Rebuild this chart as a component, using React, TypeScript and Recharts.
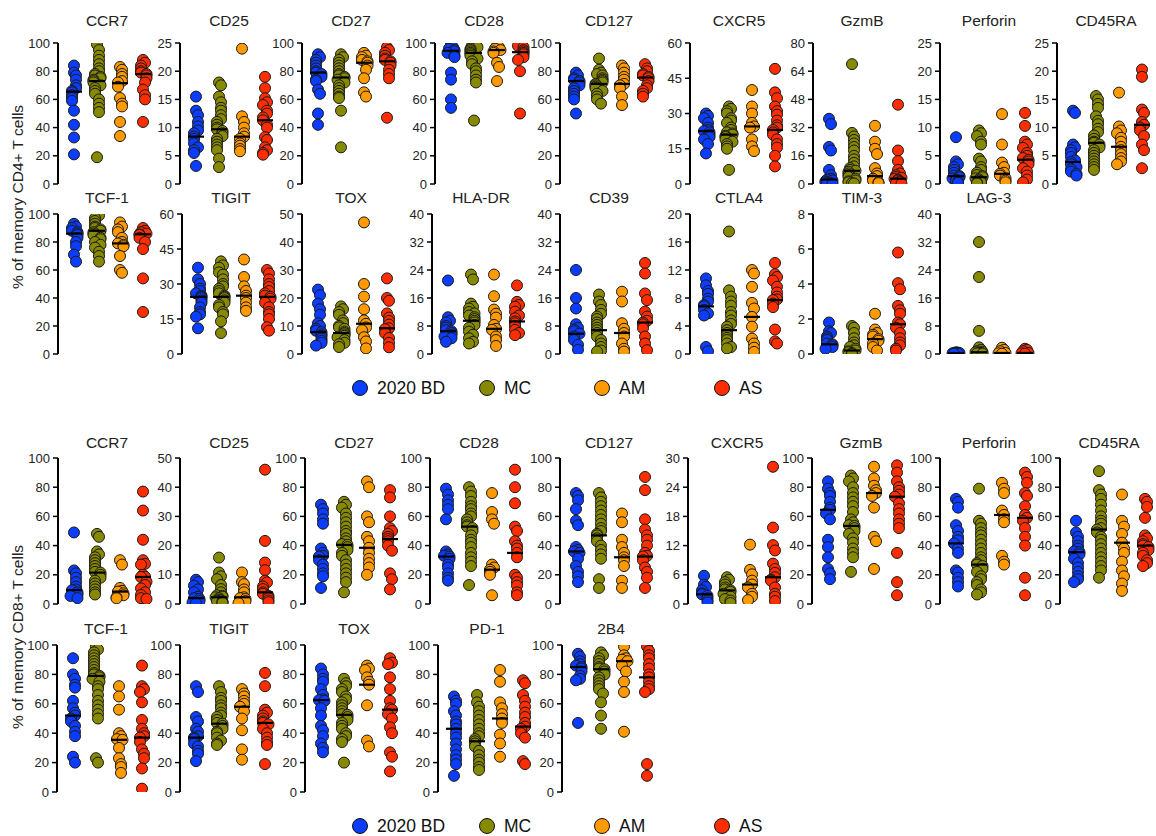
import React from 'react';
import { ScatterChart, Scatter, XAxis, YAxis } from 'recharts';

const FONT = '"Liberation Sans", Arial, Helvetica, sans-serif';
const GROUPS = ['2020 BD', 'MC', 'AM', 'AS'];
const COLORS = ['#0a3dff', '#878a00', '#ff9a00', '#ff2d00'];

// tick label sets
const T100 = [0, 20, 40, 60, 80, 100];
const T25 = [0, 5, 10, 15, 20, 25];
const T60 = [0, 15, 30, 45, 60];
const T80 = [0, 16, 32, 48, 64, 80];
const T50 = [0, 10, 20, 30, 40, 50];
const T40 = [0, 8, 16, 24, 32, 40];
const T20 = [0, 4, 8, 12, 16, 20];
const T8 = [0, 2, 4, 6, 8];
const T30 = [0, 6, 12, 18, 24, 30];

// ---------- CD4 (memory CD4+ T cells) ----------
const CD4_CCR7 = [
  [84, 79, 77, 74, 70, 68, 66, 65, 63, 61, 59, 52, 42, 33, 21],
  [99, 95, 91, 88, 85, 82, 80, 78, 77, 76, 75, 74, 73, 72, 70, 68, 66, 64, 60, 57, 54, 51, 19],
  [83, 81, 78, 76, 73, 72, 69, 61, 57, 55, 44, 34],
  [88, 86, 84, 82, 80, 79, 78, 77, 75, 72, 67, 63, 60, 44],
];
const CD4_CCR7_MED = [65.5, 73, 71.5, 78];

const CD4_CD25 = [
  [15.5, 13, 12.2, 11, 10.2, 9.5, 9, 8.4, 8, 7.2, 6.5, 6, 5.5, 3.2],
  [18, 17.5, 15.5, 14.5, 13.5, 13, 12.2, 11.5, 11, 10.5, 10, 9.7, 9.4, 9, 8.5, 8, 7.5, 7, 6.5, 6, 4.5, 3],
  [24, 12, 11, 10, 9, 8.4, 8, 7.2, 6.8, 6.2, 5.8],
  [19, 17, 15.2, 14.5, 14, 13, 12.5, 11.8, 11.3, 10.5, 10, 8.3, 7.8, 6.5, 6, 5.5, 5.2],
];
const CD4_CD25_MED = [8.4, 9.7, 8.4, 11.3];

const CD4_CD27 = [
  [92, 90, 88, 86, 84, 82, 80, 79, 78, 76, 74, 73, 67, 64, 50, 42],
  [92, 90, 88, 86, 84, 82, 80, 78, 77, 76, 75, 74, 72, 70, 68, 66, 64, 62, 61, 52, 26],
  [93, 91, 90, 88, 87, 86, 84, 81, 75, 65, 62],
  [97, 95, 93, 91, 89, 88, 87, 86, 84, 81, 78, 75, 47],
];
const CD4_CD27_MED = [79, 75.5, 86, 87];

const CD4_CD28 = [
  [99, 97, 96, 95, 94, 93, 91, 90, 79, 74, 60, 54],
  [100, 99, 98, 97, 96, 95, 94, 93, 92, 91, 89, 87, 85, 82, 80, 77, 74, 72, 45],
  [98, 97, 96, 95, 94, 93, 86, 83, 73],
  [100, 99, 98, 97, 95, 94, 93, 92, 90, 88, 80, 50],
];
const CD4_CD28_MED = [94.5, 93, 95, 93.5];

const CD4_CD127 = [
  [79, 77, 75, 74, 73, 72, 70, 68, 66, 64, 62, 60, 50],
  [89, 81, 79, 78, 77, 75, 74, 73, 72, 71, 70, 69, 68, 66, 64, 62, 60, 57],
  [84, 82, 79, 76, 74, 71, 70, 68, 62, 56],
  [85, 82, 80, 78, 77, 76, 75, 73, 70, 68, 66, 64, 62],
];
const CD4_CD127_MED = [73, 71, 71, 75.5];

const CD4_CXCR5 = [
  [30, 29, 28, 26, 24, 23, 22.5, 22, 21, 20, 19, 17, 13],
  [33, 32, 31, 30, 28, 27, 26, 24, 23, 22, 21.5, 21, 20.5, 20, 19, 18, 17, 16, 15, 6],
  [40, 33, 30, 26, 24.5, 24, 19, 16, 14],
  [49, 39, 36.5, 33, 31, 29.5, 27, 25, 24, 23, 22, 21, 19, 17, 15.5, 12, 7.5],
];
const CD4_CXCR5_MED = [22.5, 21, 24.5, 23];

const CD4_GZMB = [
  [37, 34, 21, 19, 8, 5, 3, 2.5, 2, 1.5, 1, 0.8, 0.5, 0.3, 0.2],
  [68, 29, 27, 25, 23, 21, 19, 16, 14, 12, 10, 9, 8, 7.5, 7, 6, 5, 4, 3, 2, 1.5, 1, 0.5, 0.3],
  [33, 24, 20, 17, 9, 6, 4.5, 3, 2, 1, 0.5],
  [45, 19, 13, 8, 6, 5, 4, 3.5, 3, 2.5, 2, 1.5, 1, 0.5, 0.2],
];
const CD4_GZMB_MED = [2.5, 7.5, 4.5, 3];

const CD4_PERF = [
  [8.3, 4, 3.5, 3, 2.5, 2, 1.5, 1.4, 1.2, 1, 0.8, 0.6, 0.4, 0.2],
  [9.5, 9, 8.5, 7.5, 7, 4.5, 4, 3, 2.5, 2, 1.6, 1.4, 1.2, 1, 0.8, 0.6, 0.4, 0.3, 0.2, 0.1],
  [12.4, 7, 3.8, 3, 2, 1.8, 1.5, 1, 0.6, 0.3],
  [12.6, 10.3, 7.5, 7, 6.4, 5.5, 5, 4.6, 4.3, 4, 3.5, 2.8, 2.2, 1.5, 0.8, 0.3],
];
const CD4_PERF_MED = [1.4, 1.2, 1.8, 4.3];

const CD4_CD45RA = [
  [13, 12.6, 7, 6.5, 6, 5.5, 4.8, 4.2, 3.9, 3.5, 3, 2.6, 2.2, 1.8, 1.5],
  [15.6, 15, 14.2, 13.5, 12, 11.2, 10.6, 9.8, 9.2, 8.6, 8, 7.5, 7.3, 7, 6.5, 6, 5.5, 5, 4.5, 4, 3.5, 3, 2.5],
  [16.2, 10.2, 9.5, 9, 8.2, 7.5, 6.6, 6, 5.3, 4.6, 4, 3.5],
  [20.3, 19, 13.2, 12.6, 11, 10.5, 10, 9.5, 8.5, 7, 6, 2.8],
];
const CD4_CD45RA_MED = [3.9, 7.3, 6.6, 10.5];

const CD4_TCF1 = [
  [93, 91, 90, 88, 87, 86, 85, 83, 80, 77, 71, 66],
  [100, 99, 97, 95, 93, 91, 90, 89, 88, 87, 86, 85, 83, 82, 80, 78, 76, 73, 70, 66],
  [94, 91, 89, 87, 83, 80, 79, 78, 77, 70, 60, 58],
  [90, 88, 87, 86, 85.5, 85, 83, 80, 75, 54, 30],
];
const CD4_TCF1_MED = [86, 88, 79, 85.5];

const CD4_TIGIT = [
  [37, 32, 30, 28, 27, 26, 25, 24.5, 24, 23, 22, 20, 18, 17, 16, 11],
  [39.7, 38, 37, 35, 34, 32, 30, 29, 28, 27, 26, 25, 24.5, 24, 23, 22, 21, 20, 18, 17, 14, 9],
  [40.5, 33, 29, 27, 25, 24, 22, 20, 18.5],
  [36, 34.5, 32, 30, 28.7, 27, 26, 25, 24.5, 23.7, 22, 20, 18, 17, 15, 11.5, 10],
];
const CD4_TIGIT_MED = [24.5, 24.5, 25, 24.5];

const CD4_TOX = [
  [23, 21, 18, 16, 14, 11, 10, 9, 8.3, 7.8, 7, 6.5, 5.5, 4.7, 4, 3],
  [17, 16, 15, 14, 12, 11, 10, 9.5, 9, 8, 7.5, 7, 6.5, 6, 5, 4, 3.5, 2.5],
  [47, 25, 20.5, 16, 12, 10.8, 9.5, 8.5, 6, 4.5, 2],
  [27, 20, 19, 14.5, 13, 11.8, 10.5, 9.2, 8.9, 7.5, 5.7, 4, 2.4],
];
const CD4_TOX_MED = [7.8, 7.5, 10.8, 9.2];

const CD4_HLADR = [
  [21, 10.5, 9.5, 9, 8, 7.5, 6.8, 6.5, 6, 5.5, 5, 4.5, 3.5],
  [22.7, 21.3, 14.4, 13.5, 13, 12, 11.6, 11, 10.5, 10, 9.5, 9, 8.3, 7.5, 6.4, 5.5, 4.5, 3.5, 3],
  [22.7, 16.5, 12.7, 11.5, 10.4, 8.3, 7.2, 6.9, 5, 4, 2.3],
  [19.6, 14.9, 14, 13.5, 12.1, 11, 10.2, 9.3, 8.8, 8, 6.9, 6, 5.4],
];
const CD4_HLADR_MED = [6.5, 9.5, 7.2, 9.3];

const CD4_CD39 = [
  [24, 16, 13, 8.5, 7.5, 7, 6.5, 5.8, 5, 4, 2.6, 1.2],
  [17, 15, 14, 12.6, 11.5, 10.7, 10, 9, 8.3, 7.5, 6.8, 6, 5, 4, 3, 2, 1, 0.7],
  [17.8, 15, 8.8, 7.2, 6, 5, 3, 1.5, 0.7],
  [26, 23, 17.3, 15.4, 12.1, 10.7, 9.5, 9, 8.5, 7.4, 5, 3, 1.1],
];
const CD4_CD39_MED = [5.8, 6.8, 6, 9];

const CD4_CTLA4 = [
  [10.8, 9.8, 9, 8.6, 7.9, 7.5, 7, 6.8, 6.3, 5.8, 5.5, 1, 0.4],
  [17.5, 9.1, 8.2, 7.5, 6.9, 6, 5.5, 4.8, 4.3, 3.9, 3.4, 3, 2.7, 2.3, 2, 1.5, 1, 0.8],
  [12, 11.5, 9.6, 7.3, 6.5, 5.3, 3.9, 2.2, 1.5, 0.9, 0.3],
  [13, 11.4, 11, 10.5, 9.6, 8.8, 8.2, 7.8, 7.7, 7.2, 6.7, 3.5, 1.8, 1.5],
];
const CD4_CTLA4_MED = [6.8, 3.4, 5.3, 7.7];

const CD4_TIM3 = [
  [1.8, 1.3, 1.2, 1.0, 0.9, 0.8, 0.6, 0.55, 0.5, 0.4, 0.3],
  [1.6, 1.5, 1.2, 0.9, 0.66, 0.5, 0.4, 0.3, 0.2, 0.15, 0.1, 0.05, 0],
  [2.3, 1.4, 1.2, 1.1, 1.0, 0.85, 0.76, 0.6, 0.4, 0.2],
  [5.8, 4.05, 3.7, 2.75, 2.5, 2.3, 1.8, 1.7, 1.5, 1.2, 0.9, 0.66, 0.5, 0.3, 0.2],
];
const CD4_TIM3_MED = [0.55, 0.2, 0.85, 1.7];

const CD4_LAG3 = [
  [0.5, 0.4, 0.3, 0.3, 0.2, 0.2, 0.1, 0.1],
  [32, 22, 6.6, 1.9, 1.2, 0.8, 0.6, 0.5, 0.4, 0.3, 0.2, 0.1],
  [1.8, 1.2, 0.8, 0.3, 0.2, 0.1],
  [1.5, 1.2, 0.8, 0.3, 0.2, 0.1],
];
const CD4_LAG3_MED = [0.2, 0.5, 0.3, 0.3];

// ---------- CD8 (memory CD8+ T cells) ----------
const CD8_CCR7 = [
  [49, 23, 21, 18, 15, 12, 10, 9.5, 8, 6.5, 5.5, 4],
  [48, 46, 36, 34, 32, 30, 28, 26, 24, 22, 21.5, 20, 18, 16, 14, 12, 10, 8, 6.5],
  [30, 27, 11, 9, 8.5, 7.3, 6, 4.5, 3.9],
  [77, 64, 44, 30, 27.5, 27, 20, 18.7, 18.5, 15.3, 13, 10.7, 8, 6.2, 4, 3.4],
];
const CD8_CCR7_MED = [9.5, 21.5, 8.5, 18.5];

const CD8_CD25 = [
  [8.3, 7.5, 6.3, 5, 4, 2.5, 2, 1.7, 1, 0.5, 0.3],
  [15.9, 10.8, 9.5, 8.5, 6.5, 5.1, 4, 3, 2.8, 2.5, 2.3, 2, 1.5, 1.2, 1, 0.8, 0.6, 0.4],
  [10.8, 7.5, 6.8, 5, 4, 2.3, 2, 1.7, 1, 0.3],
  [46, 21.6, 14.2, 11.6, 8, 7.4, 6, 5.1, 4, 3.5, 2.8, 2, 1.2, 0.6],
];
const CD8_CD25_MED = [2, 2.3, 2.3, 4];

const CD8_CD27 = [
  [68, 65, 62, 58, 55, 38, 35, 33, 32.5, 30, 27, 24, 21, 19, 11],
  [70, 68, 66, 62, 59, 56, 53, 50, 48, 45, 43, 41, 40.5, 39, 37, 35, 33, 30, 27, 24, 21, 18, 15, 8],
  [84, 80, 60, 56, 46, 43, 38.5, 35, 31, 28, 25, 20],
  [78, 73, 60, 52, 50, 48, 46, 44.5, 43, 40, 36.5, 21, 17, 10],
];
const CD8_CD27_MED = [32.5, 40.5, 38.5, 44.5];

const CD8_CD28 = [
  [79, 75, 71, 68, 65, 58, 36, 34, 33, 32.5, 31, 27, 25, 21, 18, 16],
  [80, 77, 74, 70, 67, 65, 62, 60, 58, 56, 54, 53, 52, 50, 47, 44, 42, 39, 35, 32, 29, 26, 13],
  [76, 63, 58, 55, 27, 25, 23.5, 22, 20, 6],
  [92, 80, 69, 53, 50, 43, 40, 38, 35, 32, 20, 18, 15, 12.6, 8, 6],
];
const CD8_CD28_MED = [32.5, 53, 23.5, 35];

const CD8_CD127 = [
  [76, 74, 71, 65, 57, 54, 39, 37, 36, 35, 31, 26, 22, 19, 15],
  [76, 73, 70, 67, 64, 61, 58, 55, 52, 50, 48, 47, 45, 43, 40, 37, 34, 31, 17, 11],
  [62, 56, 44, 39, 35, 32, 30, 26, 16, 11],
  [87, 78, 58, 51, 47, 44, 40, 35, 33, 32.5, 30, 25, 22, 18, 11],
];
const CD8_CD127_MED = [36, 47, 32, 32.5];

const CD8_CXCR5 = [
  [5.8, 4, 3.5, 2.8, 2.2, 2, 1.7, 1.2, 0.7, 0.3],
  [5.5, 5, 4.5, 4, 3.4, 3, 2.8, 2.5, 2.1, 1.5, 1, 0.7, 0.2],
  [12.2, 7, 6.1, 4.8, 4, 3.4, 2.1, 1.5, 0.8],
  [28.2, 15.7, 12.1, 11, 8.3, 7.2, 6.4, 5.5, 5, 4.8, 3.4, 2.1, 1.5, 0.6],
];
const CD8_CXCR5_MED = [2, 2.8, 4, 5.5];

const CD8_GZMB = [
  [84, 79, 76, 74, 70, 66, 64.5, 62, 58, 44, 39, 32, 24, 21, 17],
  [88, 86, 84, 80, 76, 73, 70, 67, 63, 58, 56, 54, 53.5, 52, 50, 48, 45, 42, 38, 35, 32, 22],
  [94, 86, 81, 78, 76, 74, 66, 46, 43, 24],
  [95, 90, 84, 80, 77.5, 75, 73.5, 69, 65, 62, 58, 55, 52, 35, 15, 6],
];
const CD8_GZMB_MED = [64.5, 53.5, 76, 73.5];

const CD8_PERF = [
  [72, 70, 66, 54, 50, 46, 43.6, 41.5, 38, 35, 23, 21.6, 18, 15, 12],
  [79, 57, 55, 52, 49, 47, 44, 41, 38, 35, 32, 30, 28, 27, 26, 24, 22, 19, 17, 15, 13, 10, 8, 6.5],
  [83, 79, 76, 64, 61, 58, 56, 33, 29, 27],
  [90, 87, 83, 76, 74, 67, 61, 59, 57, 52, 46, 40, 18, 6],
];
const CD8_PERF_MED = [41.5, 27, 61, 59];

const CD8_CD45RA = [
  [57, 49, 46, 43, 40, 38, 36, 35.5, 34, 31, 28, 25, 22, 19, 17, 15],
  [91, 78, 75, 72, 68, 64, 60, 57, 55, 52, 51, 49, 46, 44, 41, 38, 35, 32, 29, 26, 23, 18],
  [75, 57, 53, 48, 42, 38, 35, 29, 23, 19, 14, 9],
  [72, 70, 66.5, 59, 47, 45, 43, 41, 40, 39, 37, 35, 33, 30, 28, 26],
];
const CD8_CD45RA_MED = [35.5, 51, 42, 40];

const CD8_TCF1 = [
  [91, 80, 77, 73, 71, 62, 57, 54, 52, 50, 48, 45, 41, 38, 24, 20],
  [99, 97, 95, 93, 91, 89, 87, 85, 83, 81, 80, 79, 78, 77, 75, 72, 70, 66, 62, 59, 56, 53, 50, 23, 20],
  [72, 65, 56, 40, 38, 36, 35.5, 30, 23, 19, 17, 13],
  [86, 72, 70, 68, 61, 49, 43, 40, 38, 37, 34, 29, 26, 23, 16, 2.3],
];
const CD8_TCF1_MED = [52, 79, 35.5, 37];

const CD8_TIGIT = [
  [72, 68, 51, 48, 43, 41, 38, 37, 36, 33, 31, 28, 26, 21],
  [72, 68, 64, 62, 59, 57, 54, 52, 51, 49, 47, 46.5, 45, 43, 41, 40, 37, 35, 33, 32],
  [70, 67, 65, 62, 60, 58, 55, 50, 42, 29, 22],
  [81, 72, 56, 54, 52, 50, 48, 47, 46, 43, 40, 37, 34, 32, 19],
];
const CD8_TIGIT_MED = [37, 46.5, 58, 47];

const CD8_TOX = [
  [84, 80, 77, 75, 70, 66, 63, 62.5, 62, 57, 52, 45, 42, 38, 33, 30, 27],
  [77, 74, 72, 70, 68, 65, 63, 61, 59, 57, 55, 53, 52.5, 51, 49, 47, 45, 43, 40, 38, 36, 34, 20],
  [86, 84, 83, 78, 75, 73, 59, 35, 31],
  [91, 88, 87, 78, 70, 62, 57, 56, 53, 50, 44, 40, 27, 24, 14],
];
const CD8_TOX_MED = [62.5, 52.5, 73, 56];

const CD8_PD1 = [
  [65, 62, 60, 55, 52, 48, 46, 43, 40, 37, 33, 29, 25, 22, 19, 11],
  [66, 61, 58, 55, 52, 49, 46, 43, 40, 38, 36, 34.5, 33, 31, 28, 25, 22, 20, 17, 15],
  [83, 75, 61, 57, 53, 50, 47, 39, 33, 24],
  [76, 74, 66, 62, 58, 54, 51, 47, 44.5, 43, 40, 37, 21, 19],
];
const CD8_PD1_MED = [43, 34.5, 50, 44.5];

const CD8_2B4 = [
  [94, 92, 89, 87, 86, 85, 84, 82, 79, 77, 76, 47],
  [95, 93, 91, 89, 87, 85, 84, 83.5, 82, 80, 78, 76, 74, 72, 70, 67, 61, 52, 43],
  [99, 93, 91, 90, 89, 86, 82, 75, 68, 41],
  [99, 96, 93, 91, 87, 84, 80, 78, 75, 72, 70, 68, 19, 11],
];
const CD8_2B4_MED = [85, 83.5, 89, 78];

// ---------- panel lists ----------
type PanelDef = { title: string; values: number[][]; medians: number[]; ticks: number[] };

const ROW1: PanelDef[] = [
  { title: 'CCR7', values: CD4_CCR7, medians: CD4_CCR7_MED, ticks: T100 },
  { title: 'CD25', values: CD4_CD25, medians: CD4_CD25_MED, ticks: T25 },
  { title: 'CD27', values: CD4_CD27, medians: CD4_CD27_MED, ticks: T100 },
  { title: 'CD28', values: CD4_CD28, medians: CD4_CD28_MED, ticks: T100 },
  { title: 'CD127', values: CD4_CD127, medians: CD4_CD127_MED, ticks: T100 },
  { title: 'CXCR5', values: CD4_CXCR5, medians: CD4_CXCR5_MED, ticks: T60 },
  { title: 'GzmB', values: CD4_GZMB, medians: CD4_GZMB_MED, ticks: T80 },
  { title: 'Perforin', values: CD4_PERF, medians: CD4_PERF_MED, ticks: T25 },
  { title: 'CD45RA', values: CD4_CD45RA, medians: CD4_CD45RA_MED, ticks: T25 },
];
const ROW2: PanelDef[] = [
  { title: 'TCF-1', values: CD4_TCF1, medians: CD4_TCF1_MED, ticks: T100 },
  { title: 'TIGIT', values: CD4_TIGIT, medians: CD4_TIGIT_MED, ticks: T60 },
  { title: 'TOX', values: CD4_TOX, medians: CD4_TOX_MED, ticks: T50 },
  { title: 'HLA-DR', values: CD4_HLADR, medians: CD4_HLADR_MED, ticks: T40 },
  { title: 'CD39', values: CD4_CD39, medians: CD4_CD39_MED, ticks: T40 },
  { title: 'CTLA4', values: CD4_CTLA4, medians: CD4_CTLA4_MED, ticks: T20 },
  { title: 'TIM-3', values: CD4_TIM3, medians: CD4_TIM3_MED, ticks: T8 },
  { title: 'LAG-3', values: CD4_LAG3, medians: CD4_LAG3_MED, ticks: T40 },
];
const ROW3: PanelDef[] = [
  { title: 'CCR7', values: CD8_CCR7, medians: CD8_CCR7_MED, ticks: T100 },
  { title: 'CD25', values: CD8_CD25, medians: CD8_CD25_MED, ticks: T50 },
  { title: 'CD27', values: CD8_CD27, medians: CD8_CD27_MED, ticks: T100 },
  { title: 'CD28', values: CD8_CD28, medians: CD8_CD28_MED, ticks: T100 },
  { title: 'CD127', values: CD8_CD127, medians: CD8_CD127_MED, ticks: T100 },
  { title: 'CXCR5', values: CD8_CXCR5, medians: CD8_CXCR5_MED, ticks: T30 },
  { title: 'GzmB', values: CD8_GZMB, medians: CD8_GZMB_MED, ticks: T100 },
  { title: 'Perforin', values: CD8_PERF, medians: CD8_PERF_MED, ticks: T100 },
  { title: 'CD45RA', values: CD8_CD45RA, medians: CD8_CD45RA_MED, ticks: T100 },
];
const ROW4: PanelDef[] = [
  { title: 'TCF-1', values: CD8_TCF1, medians: CD8_TCF1_MED, ticks: T100 },
  { title: 'TIGIT', values: CD8_TIGIT, medians: CD8_TIGIT_MED, ticks: T100 },
  { title: 'TOX', values: CD8_TOX, medians: CD8_TOX_MED, ticks: T100 },
  { title: 'PD-1', values: CD8_PD1, medians: CD8_PD1_MED, ticks: T100 },
  { title: '2B4', values: CD8_2B4, medians: CD8_2B4_MED, ticks: T100 },
];

// ---------- layout (pixels) ----------
type RowGeo = { titleY: number; top: number; bottom: number; axisX: number[] };
const GEO1: RowGeo = { titleY: 21, top: 43, bottom: 184, axisX: [58, 180, 302, 435, 560, 690, 813, 940, 1057] };
const GEO2: RowGeo = { titleY: 198, top: 214, bottom: 354, axisX: [58, 182, 302, 432, 560, 690, 813, 940] };
const GEO3: RowGeo = { titleY: 443, top: 458, bottom: 604, axisX: [58, 180, 305, 430, 560, 688, 812, 940, 1060] };
const GEO4: RowGeo = { titleY: 629, top: 645, bottom: 792, axisX: [57, 180, 305, 438, 562] };

const PLOT_W = 98;
const FIRST = 16;
const STEP = 23;
const Y_AXIS_W = 45;
const M_TOP = 8;
const M_BOTTOM = 8;
const M_RIGHT = 4;
const JITTER = [0, 2, -2, 3.5, -3.5];

const makeDot = (color: string) => (props: any) => {
  const { cx, cy } = props;
  if (cx == null || cy == null) return <g />;
  return <circle cx={cx} cy={cy} r={5.5} fill={color} stroke="#1a1a1a" strokeWidth={1} />;
};

const medianShape = (props: any) => {
  const { cx, cy } = props;
  if (cx == null || cy == null) return <g />;
  return <line x1={cx - 8} x2={cx + 8} y1={cy} y2={cy} stroke="#000" strokeWidth={2.2} />;
};

function Panel({ def, axisX, geo }: { def: PanelDef; axisX: number; geo: RowGeo }) {
  const plotH = geo.bottom - geo.top;
  const max = def.ticks[def.ticks.length - 1];
  const left = axisX - Y_AXIS_W;
  const top = geo.top - M_TOP;
  const width = Y_AXIS_W + PLOT_W + M_RIGHT;
  const height = plotH + M_TOP + M_BOTTOM;
  const xLo = -FIRST / STEP;
  const xHi = (PLOT_W - FIRST) / STEP;

  const series = def.values.map((vals, gi) => {
    const placed: number[] = [];
    return vals.map((v) => {
      const ypx = (v / max) * plotH;
      const n = placed.filter((q) => Math.abs(q - ypx) < 7).length;
      placed.push(ypx);
      return { x: gi + JITTER[n % JITTER.length] / STEP, y: v };
    });
  });
  const medData = def.medians.map((m, gi) => ({ x: gi, y: m }));

  return (
    <>
      <div
        style={{
          position: 'absolute',
          left: axisX + PLOT_W / 2,
          top: geo.titleY,
          transform: 'translate(-50%, -50%)',
          fontFamily: FONT,
          fontSize: 15.5,
          color: '#222',
          whiteSpace: 'nowrap',
        }}
      >
        {def.title}
      </div>
      <div style={{ position: 'absolute', left, top }}>
        <ScatterChart width={width} height={height} margin={{ top: M_TOP, right: M_RIGHT, bottom: M_BOTTOM, left: 0 }}>
          <XAxis
            type="number"
            dataKey="x"
            domain={[xLo, xHi]}
            tick={false}
            tickLine={false}
            height={0}
            axisLine={{ stroke: '#000', strokeWidth: 2 }}
            allowDataOverflow
          />
          <YAxis
            type="number"
            dataKey="y"
            domain={[0, max]}
            ticks={def.ticks}
            interval={0}
            width={Y_AXIS_W}
            tickSize={5}
            tickMargin={3}
            tick={{ fontSize: 13, fill: '#222', fontFamily: FONT }}
            axisLine={{ stroke: '#000', strokeWidth: 2 }}
            tickLine={{ stroke: '#000', strokeWidth: 1.5 }}
            allowDataOverflow
          />
          {series.map((d, gi) => (
            <Scatter key={gi} data={d} isAnimationActive={false} shape={makeDot(COLORS[gi])} />
          ))}
          <Scatter data={medData} isAnimationActive={false} shape={medianShape} />
        </ScatterChart>
      </div>
    </>
  );
}

const LEGEND_X = [360, 487, 602, 722];

function Legend({ y }: { y: number }) {
  return (
    <>
      {GROUPS.map((g, i) => (
        <React.Fragment key={g}>
          <div
            style={{
              position: 'absolute',
              left: LEGEND_X[i] - 8,
              top: y - 8,
              width: 14,
              height: 14,
              borderRadius: '50%',
              background: COLORS[i],
              border: '1.5px solid #111',
            }}
          />
          <div
            style={{
              position: 'absolute',
              left: LEGEND_X[i] + 17,
              top: y,
              transform: 'translateY(-50%)',
              fontFamily: FONT,
              fontSize: 17.5,
              color: '#111',
              whiteSpace: 'nowrap',
            }}
          >
            {g}
          </div>
        </React.Fragment>
      ))}
    </>
  );
}

function YLabel({ text, cx, cy }: { text: string; cx: number; cy: number }) {
  return (
    <div
      style={{
        position: 'absolute',
        left: cx,
        top: cy,
        transform: 'translate(-50%, -50%) rotate(-90deg)',
        fontFamily: FONT,
        fontSize: 15.5,
        color: '#222',
        whiteSpace: 'nowrap',
      }}
    >
      {text}
    </div>
  );
}

export default function App() {
  const rows: [PanelDef[], RowGeo][] = [
    [ROW1, GEO1],
    [ROW2, GEO2],
    [ROW3, GEO3],
    [ROW4, GEO4],
  ];
  return (
    <div style={{ position: 'absolute', left: 0, top: 0, width: 1156, height: 836, background: '#fff', overflow: 'hidden' }}>
      {rows.map(([defs, geo], ri) =>
        defs.map((d, i) => <Panel key={`${ri}-${i}`} def={d} axisX={geo.axisX[i]} geo={geo} />)
      )}
      <YLabel text="% of memory CD4+ T cells" cx={18} cy={197} />
      <YLabel text="% of memory CD8+ T cells" cx={18} cy={637} />
      <Legend y={388} />
      <Legend y={826} />
    </div>
  );
}
